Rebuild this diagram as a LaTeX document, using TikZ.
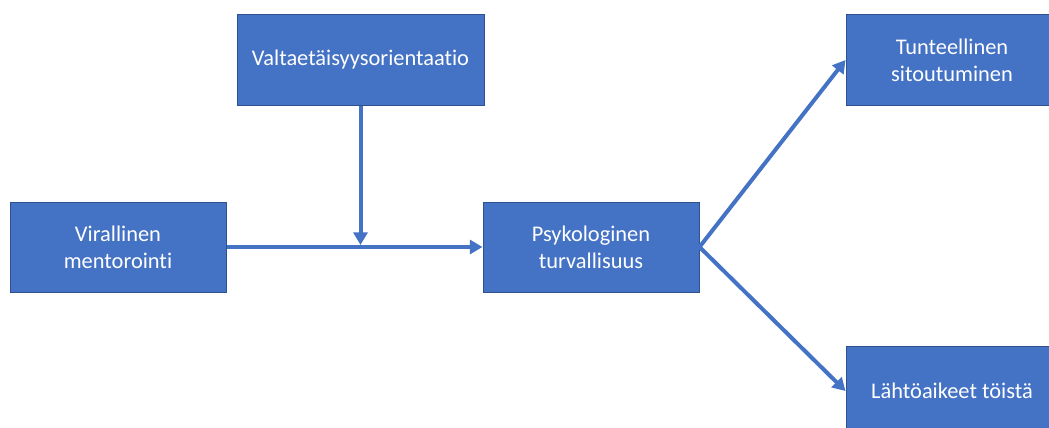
\documentclass[tikz,border=0pt]{standalone}
\usepackage{fontspec}
\setmainfont{Carlito}[RawFeature={-liga}]
\usetikzlibrary{arrows.meta}
\definecolor{boxfill}{HTML}{4472C4}
\definecolor{boxline}{HTML}{2F528F}
\definecolor{arrowblue}{HTML}{4472C4}
\begin{document}
\begin{tikzpicture}[x=0.75pt,y=-0.75pt,
  box/.style={rectangle, draw=boxline, line width=0.75pt, fill=boxfill,
    text=white, align=center, inner sep=0pt,
    font=\fontsize{16.8}{20.25}\selectfont},
  link/.style={draw=arrowblue, line width=3pt,
    -{Triangle[length=9.5pt,width=10.5pt]}}]
\useasboundingbox (0,0) rectangle (1049,428);
\fill[white] (0,0) rectangle (1049,428);

\node[box, minimum width=247*0.75pt, minimum height=90*0.75pt] (valta) at (360.5,60) {Valtaetäisyysorientaatio};
\node[box, minimum width=216*0.75pt, minimum height=90*0.75pt] (viral) at (118,247) {Virallinen\\mentorointi};
\node[box, minimum width=216*0.75pt, minimum height=90*0.75pt] (psyk) at (591,247) {Psykologinen\\turvallisuus};
\node[box, minimum width=212*0.75pt, minimum height=90*0.75pt] (tunte) at (952,60) {Tunteellinen\\sitoutuminen};
\node[box, minimum width=212*0.75pt, minimum height=90*0.75pt] (lahto) at (952,391) {Lähtöaikeet töistä};

\coordinate (meet) at (valta.south |- viral.east);

\draw[link] (viral.east) -- (psyk.west);
\draw[link, shorten >=1.5pt] (valta.south) -- (meet);
\draw[link] (psyk.east) -- (tunte.west);
\draw[link] (psyk.east) -- (lahto.west);
\end{tikzpicture}
\end{document}
